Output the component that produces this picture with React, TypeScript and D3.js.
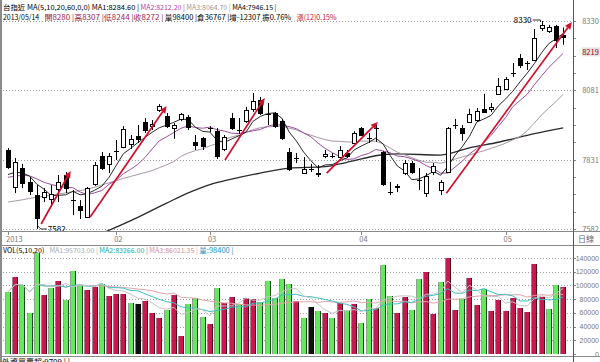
import React from 'react';
import * as d3 from 'd3';

const W = 600;
const H = 362;

// ---- data (TAIEX futures, daily, 2013) ----
const opens = [7866,7733,7801,7751,7704,7697,7690,7726,7776,7688,7665,7625,7744,7845,7816,7862,7877,7888,7918,7967,7952,8010,7988,7944,7977,7985,7895,7909,7946,7934,7870,7981,7940,7970,8014,8046,7998,7999,7970,7859,7838,7783,7800,7784,7846,7845,7841,7855,7891,7945,7910,7946,7859,7716,7737,7783,7819,7759,7711,7787,7722,7787,7955,7945,7967,7974,8014,8014,8068,8086,8142,8197,8180,8190,8305,8294,8312,8280];
const highs = [7873,7837,7816,7769,7740,7729,7740,7776,7787,7722,7686,7733,7823,7859,7855,7902,7952,7920,7956,7981,7974,8031,7999,7963,7999,7992,7920,7913,7952,7945,7920,7999,7981,8021,8071,8057,8035,8003,7978,7873,7855,7841,7816,7812,7866,7855,7880,7866,7934,7949,7927,7956,7862,7751,7744,7830,7827,7801,7783,7819,7758,7949,7978,7956,8014,8017,8068,8035,8125,8129,8179,8211,8186,8301,8330,8316,8316,8307];
const lows = [7798,7711,7729,7704,7582,7679,7661,7679,7711,7632,7618,7622,7737,7794,7783,7830,7873,7870,7891,7927,7938,8003,7945,7906,7970,7938,7866,7866,7931,7834,7862,7938,7924,7963,8003,7992,7956,7945,7902,7791,7819,7780,7787,7769,7837,7837,7837,7837,7888,7916,7891,7895,7737,7704,7715,7776,7780,7722,7697,7776,7704,7783,7942,7899,7967,7967,7999,8003,8064,8082,8129,8161,8154,8186,8294,8287,8233,8244];
const closes = [7805,7823,7747,7719,7622,7715,7708,7751,7729,7686,7650,7729,7812,7801,7845,7864,7942,7906,7906,7938,7958,8024,7952,7957,7996,7949,7884,7880,7944,7845,7913,7945,7938,8010,8042,7999,7996,7952,7909,7798,7836,7798,7798,7780,7850,7843,7866,7845,7927,7920,7908,7944,7744,7714,7733,7819,7787,7757,7773,7809,7751,7945,7957,7927,7996,8006,8003,8021,8096,8121,8144,8172,8178,8269,8316,8308,8260,8272];
const volumes = [90400,112300,100600,59800,147300,86000,96250,106500,78750,121000,100600,93300,97700,102000,84600,87500,87500,74400,72900,77300,59800,52500,64200,86000,26250,72900,81700,54000,43750,96250,74400,83100,72900,81700,80200,75800,106500,81700,109400,102000,77300,52500,68500,62700,59800,52500,74400,64200,72900,45200,80200,67100,129800,84600,59800,83100,64200,109400,119600,58300,105000,140000,64200,80200,110800,71500,94800,62700,78750,62700,81700,67100,61250,131250,83100,65600,100600,98400];
const closeBeforeFirst = 7840;

// moving-average values at the left edge (before a full window exists)
const ma5Lead = [7778,7786,7784,7772];
const ma10Lead = [7768,7772,7775,7773,7762,7750,7742,7736,7732];
const ma20Lead = [7679,7683,7687,7692,7697,7700,7704,7708,7712,7716,7720,7725,7732,7740,7748,7756,7764,7771,7778];
// 60-day MA at these bars
const ma60Idx = [13,18,22,25,28,31,35,39,44,47,52,54,60,64,68,73,77];
const ma60Val = [7566,7624,7675,7712,7742,7761,7783,7801,7806,7822,7849,7852,7848,7874,7894,7925,7946];

const priceTicks = [7582,7831,8081,8330];
const priceMarker = 8219;
const volTicks = [0,20000,40000,60000,80000,100000,120000,140000];
const monthStarts = [0,15,28,49,69];
const monthLabels = ['2013','02','03','04','05'];
// trend arrows: [fromBar, fromPrice, toBar, toPrice]
const arrows = [
  [4.6,7600,8.7,7791],
  [11.4,7625,22.0,8024],
  [30.1,7830,35.6,8053],
  [44.2,7783,51.3,7967],
  [60.8,7711,78.2,8326],
];
const lowMark = { i: 4, v: 7582 };
const highMark = { i: 74, v: 8330 };

const header1 = [
  { t: '台指近 MA(5,10,20,60,0,0) MA1:8284.60 |', c: '#000' },
  { t: 'MA2:8212.20 |', c: '#b040b0' },
  { t: 'MA3:8064.70 |', c: '#9a9a9a' },
  { t: 'MA4:7946.15 |', c: '#000' },
];
const header2 = [
  { t: '2013/05/14 ', c: '#000' },
  { t: '開8280 |高8307 |低8244 |收8272 |', c: '#a0204a' },
  { t: '量98400 |倉36767 |增-12307 振0.76% ', c: '#000' },
  { t: '漲(12)0.15%', c: '#d0103a' },
];
const volHeader = [
  { t: 'VOL(5,10,20) ', c: '#000' },
  { t: 'MA1:95703.00 |', c: '#aaaaaa' },
  { t: 'MA2:83266.00 |', c: '#1aa8a8' },
  { t: 'MA3:86021.35 |', c: '#d89090' },
  { t: '量:98400 |', c: '#2290c0' },
];

const FONT = "'Noto Sans CJK TC','DejaVu Sans',sans-serif";

function movingAvg(src: number[], n: number, lead: number[] | null): number[] {
  return src.map((_, i) => {
    if (i >= n - 1) return d3.mean(src.slice(i - n + 1, i + 1)) as number;
    if (lead) return lead[i];
    return d3.mean(src.slice(0, i + 1)) as number;
  });
}

const units = (s: string) => Array.from(s).reduce((a, ch) => a + (ch.charCodeAt(0) > 0x2e80 ? 2 : 1), 0);

function HeaderLine({ segs, x0, width, yb, fs }: { segs: { t: string; c: string }[]; x0: number; width: number; yb: number; fs: number }) {
  const total = d3.sum(segs, (s) => units(s.t));
  const per = width / total;
  let cur = x0;
  return (
    <g>
      {segs.map((s, k) => {
        const trimmed = s.t.replace(/\s+$/, '');
        const w = units(trimmed) * per;
        const el = (
          <text key={k} x={cur} y={yb} fontSize={fs} fill={s.c} textLength={w - 1.5} lengthAdjust="spacingAndGlyphs">
            {trimmed}
          </text>
        );
        cur += units(s.t) * per;
        return el;
      })}
    </g>
  );
}

export default function App() {
  const N = closes.length;
  const x = d3.scaleBand<number>().domain(d3.range(N)).range([4.4, 566.8]).paddingInner(0.3).paddingOuter(0.15);
  const step = x.step();
  const bw = x.bandwidth();
  const xc = (i: number) => (x(0) as number) + bw / 2 + i * step;
  const y = d3.scaleLinear().domain([7582, 8330]).range([229, 21]);
  const yv = d3.scaleLinear().domain([0, 140000]).range([354, 258]);

  const ma5 = movingAvg(closes, 5, ma5Lead);
  const ma10 = movingAvg(closes, 10, ma10Lead);
  const ma20 = movingAvg(closes, 20, ma20Lead);
  const vma5 = movingAvg(volumes, 5, null);
  const vma10 = movingAvg(volumes, 10, null);
  const vma20 = movingAvg(volumes, 20, null);

  const pLine = d3.line<number>().x((_, i) => xc(i)).y((d) => y(d));
  const vLine = d3.line<number>().x((_, i) => xc(i)).y((d) => yv(d));
  const ma60Line = d3.line<number>().x((d) => xc(d)).y((_, k) => y(ma60Val[k])).curve(d3.curveMonotoneX);

  const minorTicks = d3.range(0, 13).map((k) => 7582 + (k * (8330 - 7582)) / 12);

  const candles = closes.map((c, i) => {
    const o = opens[i];
    const cx = Math.round(xc(i));
    const yh = y(highs[i]);
    const yl = y(lows[i]);
    const yo = y(o);
    const yc = y(c);
    const top = Math.min(yo, yc);
    const bot = Math.max(yo, yc);
    const doji = Math.abs(c - o) < 4;
    if (doji) {
      const ym = Math.round((yo + yc) / 2) + 0.5;
      return (
        <g key={i}>
          <line x1={cx + 0.5} x2={cx + 0.5} y1={yh} y2={yl} stroke="#000" strokeWidth={1} />
          <line x1={cx - 2} x2={cx + 3} y1={ym} y2={ym} stroke="#000" strokeWidth={1} />
        </g>
      );
    }
    const rt = Math.round(top) + 0.5;
    const rb = Math.round(bot) + 0.5;
    return (
      <g key={i}>
        <line x1={cx + 0.5} x2={cx + 0.5} y1={yh} y2={rt} stroke="#000" strokeWidth={1} />
        <line x1={cx + 0.5} x2={cx + 0.5} y1={rb} y2={yl} stroke="#000" strokeWidth={1} />
        <rect x={cx - 1.5} y={rt} width={4} height={Math.max(1, rb - rt)} fill={c > o ? '#fff' : '#000'} stroke="#000" strokeWidth={1} />
      </g>
    );
  });

  const volBars = volumes.map((v, i) => {
    const prev = i === 0 ? closeBeforeFirst : closes[i - 1];
    const dir = closes[i] > prev ? 1 : closes[i] < prev ? -1 : 0;
    const fill = dir > 0 ? '#c8184f' : dir < 0 ? '#66e85e' : '#111';
    const edge = dir > 0 ? '#4a0618' : dir < 0 ? '#1c4a1c' : '#000';
    const cx = Math.round(xc(i));
    const top = Math.round(yv(v));
    return (
      <g key={i}>
        <rect x={cx - 2} y={top} width={4} height={354 - top} fill={fill} />
        <rect x={cx + 2} y={top} width={1} height={354 - top} fill={edge} />
        <rect x={cx - 3} y={top} width={1} height={354 - top} fill={edge} opacity={0.5} />
      </g>
    );
  });

  const arrowEls = arrows.map((a, k) => {
    const x0 = xc(a[0]);
    const y0 = y(a[1]);
    const x1 = xc(a[2]);
    const y1 = y(a[3]);
    const ang = Math.atan2(y1 - y0, x1 - x0);
    const L = 7;
    const hw = 3.2;
    const bx = x1 - L * Math.cos(ang);
    const by = y1 - L * Math.sin(ang);
    const px = -Math.sin(ang) * hw;
    const py = Math.cos(ang) * hw;
    return (
      <g key={k}>
        <line x1={x0} y1={y0} x2={bx} y2={by} stroke="#d0102c" strokeWidth={1.7} />
        <path d={`M${x1},${y1}L${bx + px},${by + py}L${bx - px},${by - py}Z`} fill="#d0102c" />
      </g>
    );
  });

  const lx = xc(lowMark.i);
  const ly = y(lowMark.v);
  const hx = xc(highMark.i);
  const hy = y(highMark.v);

  return (
    <svg width={W} height={H} style={{ position: 'absolute', left: 0, top: 0, background: '#fff' }} fontFamily={FONT}>
      <defs>
        <clipPath id="pclip"><rect x={2} y={0} width={571} height={231} /></clipPath>
        <clipPath id="vclip"><rect x={2} y={246} width={571} height={110} /></clipPath>
      </defs>
      <rect x={0} y={0} width={W} height={H} fill="#fff" />

      {/* header lines */}
      <HeaderLine segs={header1} x0={3} width={275} yb={9.5} fs={7} />
      <HeaderLine segs={header2} x0={3} width={335} yb={19.5} fs={7.2} />

      {/* price grid */}
      {priceTicks.map((t) => (
        <line key={t} x1={3} x2={573} y1={Math.round(y(t)) + 0.5} y2={Math.round(y(t)) + 0.5} stroke="#9a9a9a" strokeDasharray="1,2" />
      ))}

      <g clipPath="url(#pclip)">
        <path d={ma60Line(ma60Idx) || ''} fill="none" stroke="#2a2a2a" strokeWidth={1.3} />
        <path d={pLine(ma20) || ''} fill="none" stroke="#a898a8" strokeWidth={1} />
        <path d={pLine(ma10) || ''} fill="none" stroke="#9a4e9a" strokeWidth={1} />
        <path d={pLine(ma5) || ''} fill="none" stroke="#111" strokeWidth={0.9} />
        {candles}
        {arrowEls}
      </g>

      {/* low / high annotations */}
      <polyline points={`${lx + 1},${ly - 3} ${lx + 4},${ly} ${lx + 10},${ly}`} fill="none" stroke="#000" strokeWidth={0.8} />
      <text x={lx + 11} y={ly + 3} fontSize={8} fill="#000">{lowMark.v}</text>
      <polyline points={`${hx - 9},${hy - 1} ${hx - 1},${hy - 1} ${hx - 1},${hy + 1}`} fill="none" stroke="#000" strokeWidth={0.8} />
      <text x={hx - 10} y={hy + 1.5} fontSize={8} fill="#000" textAnchor="end">{highMark.v}</text>

      {/* right price axis */}
      {minorTicks.map((t, k) => (
        <line key={k} x1={573} x2={576} y1={Math.round(y(t)) + 0.5} y2={Math.round(y(t)) + 0.5} stroke="#888" />
      ))}
      {priceTicks.map((t) => (
        <text key={t} x={590.5} y={y(t) + 3} fontSize={7.5} fill="#777" textAnchor="middle">{t}</text>
      ))}
      <rect x={582} y={y(priceMarker) - 4.5} width={18} height={9} fill="#e4e4e4" />
      <text x={590.5} y={y(priceMarker) + 3} fontSize={7.5} fill="#a00018" textAnchor="middle">{priceMarker}</text>

      {/* x axis strip */}
      <line x1={0} x2={W} y1={231.5} y2={231.5} stroke="#8a8a8a" />
      <line x1={0} x2={W} y1={245.5} y2={245.5} stroke="#8a8a8a" />
      {monthStarts.map((m, k) => (
        <g key={k}>
          <line x1={Math.round(xc(m)) + 0.5} x2={Math.round(xc(m)) + 0.5} y1={232} y2={235} stroke="#888" />
          <text x={xc(m) - 2} y={241.5} fontSize={7.5} fill="#777">{monthLabels[k]}</text>
        </g>
      ))}
      <text x={586} y={242} fontSize={8} fill="#666" textAnchor="middle">日線</text>

      {/* volume panel */}
      <HeaderLine segs={volHeader} x0={3} width={232} yb={252.5} fs={7} />
      {volTicks.filter((t) => t > 0).map((t) => (
        <line key={t} x1={3} x2={573} y1={Math.round(yv(t)) + 0.5} y2={Math.round(yv(t)) + 0.5} stroke="#a0a0a0" strokeDasharray="1,2" />
      ))}
      <g clipPath="url(#vclip)">
        {volBars}
        <path d={vLine(vma20) || ''} fill="none" stroke="#e0a6ac" strokeWidth={1} />
        <path d={vLine(vma10) || ''} fill="none" stroke="#3cc0c0" strokeWidth={1} />
        <path d={vLine(vma5) || ''} fill="none" stroke="#c4c4c4" strokeWidth={1} />
      </g>
      {volTicks.map((t) => (
        <g key={t}>
          <line x1={573} x2={576} y1={Math.round(yv(t)) + 0.5} y2={Math.round(yv(t)) + 0.5} stroke="#888" />
          <text x={599} y={yv(t) + 2.5} fontSize={7} fontFamily="'Liberation Sans',sans-serif" fill="#777" textAnchor="end">{t}</text>
        </g>
      ))}
      <line x1={0} x2={W} y1={356.5} y2={356.5} stroke="#8a8a8a" />
      <text x={2} y={365} fontSize={8} fill="#000">外資買賣超:9709 | |</text>

      {/* frame */}
      <rect x={0} y={0} width={2} height={H} fill="#8a8a8a" />
      <line x1={573.5} x2={573.5} y1={0} y2={H} stroke="#555" />
    </svg>
  );
}
